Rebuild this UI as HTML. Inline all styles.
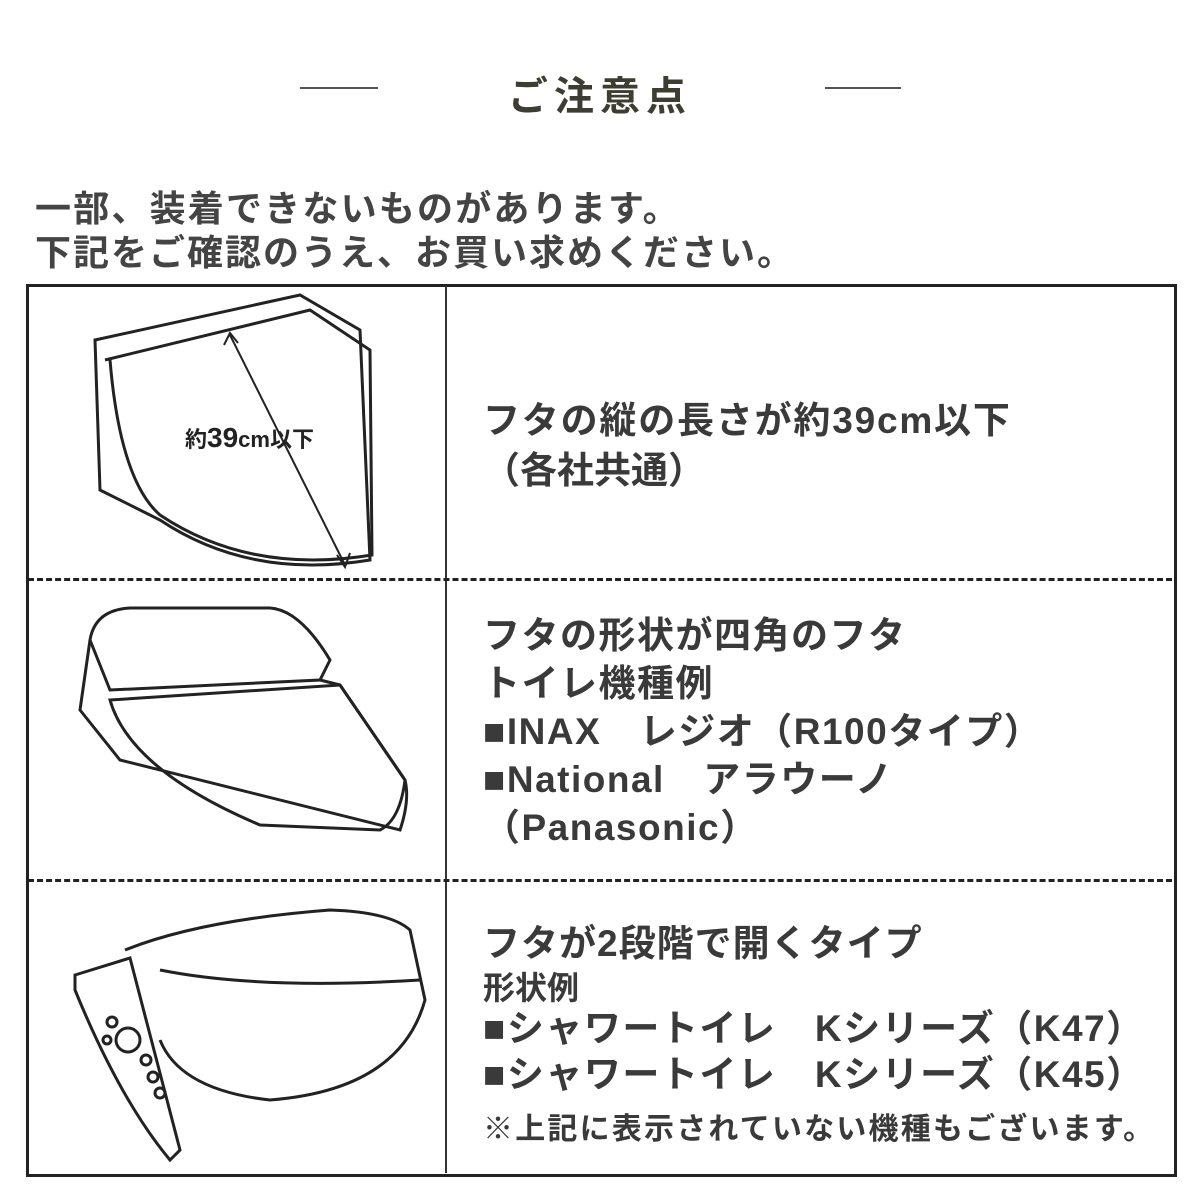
<!DOCTYPE html>
<html><head><meta charset="utf-8"><style>
body{margin:0;width:1200px;height:1200px;background:#fff;position:relative;overflow:hidden;font-family:"Liberation Sans","Noto Sans CJK JP",sans-serif;}
.t{position:absolute;white-space:nowrap;font-weight:bold;color:#3a3a3a;}
</style></head><body>
<div style="position:absolute;left:300px;top:87px;width:78px;height:2px;background:#555"></div>
<div style="position:absolute;left:825px;top:87px;width:76px;height:2px;background:#555"></div>
<div class="t" style="left:508px;top:64px;font-size:40px;letter-spacing:6px;color:#3d3d32">ご注意点</div>
<div class="t" style="left:35px;top:180px;font-size:36px;letter-spacing:2.2px;color:#444">一部、装着できないものがあります。</div>
<div class="t" style="left:35px;top:224px;font-size:36px;letter-spacing:2px;color:#444">下記をご確認のうえ、お買い求めください。</div>
<div style="position:absolute;left:26px;top:284px;width:1145px;height:887px;border:3px solid #222"></div>
<div style="position:absolute;left:445px;top:286px;width:2px;height:887px;background:#333"></div>
<div style="position:absolute;left:28px;top:578px;width:1144px;border-top:3px dashed #222"></div>
<div style="position:absolute;left:28px;top:879px;width:1144px;border-top:3px dashed #222"></div>
<svg style="position:absolute;left:0;top:0" width="1200" height="1200" fill="none" stroke="#222" stroke-width="3">
<path d="M95 340 L300 295 L360 330 L370 560 Q250 580 160 520 L100 490 Z" fill="#fff"/>
<path d="M105 360 L310 310 L370 350 L372 555 Q250 575 160 515 Q120 480 110 360"/>
<path d="M230 335 L345 565" stroke-width="2"/>
<path d="M224 345 L230 333 L238 343 M337 555 L345 567 L350 553" stroke-width="2"/>
<text x="185" y="447" font-size="22" font-weight="bold" fill="#222" stroke="none" font-family="Liberation Sans,Noto Sans CJK JP,sans-serif">約<tspan font-size="28">39</tspan>cm以下</text>
<path d="M90 640 Q95 610 130 608 L270 608 Q300 610 330 660 L320 680 L110 690 Z"/>
<path d="M90 640 L80 710 L120 760 L400 830 Q410 800 405 780 L340 685 L320 680"/>
<path d="M110 700 L340 685 L405 780 Q400 820 380 830 L260 825 Q130 770 110 700 Z"/>
<path d="M75 975 L130 958 L180 1150 L170 1160 Q120 1100 75 990 Z"/>
<path d="M125 950 Q200 920 330 910 Q390 912 410 930 L425 1000 Q400 1090 270 1100 Q180 1090 160 1040"/>
<path d="M160 970 Q260 990 420 980"/>
<circle cx="128" cy="1040" r="12"/><circle cx="112" cy="1022" r="5"/><circle cx="146" cy="1060" r="5"/><circle cx="153" cy="1077" r="5"/><circle cx="160" cy="1093" r="5"/><circle cx="107" cy="1040" r="4"/>
</svg>
<div class="t" style="left:483px;top:390px;font-size:37px;letter-spacing:1.8px">フタの縦の長さが約39cm以下</div>
<div class="t" style="left:483px;top:440px;font-size:37px">（各社共通）</div>
<div class="t" style="left:483px;top:612px;font-size:37px;line-height:48px;letter-spacing:1.5px">フタの形状が四角のフタ<br>トイレ機種例<br>■INAX　レジオ（R100タイプ）<br>■National　アラウーノ<br>（Panasonic）</div>
<div class="t" style="left:483px;top:913px;font-size:37px;letter-spacing:1px">フタが2段階で開くタイプ</div>
<div class="t" style="left:483px;top:963px;font-size:32px">形状例</div>
<div class="t" style="left:483px;top:1006px;font-size:37px;line-height:46px;letter-spacing:1.5px">■シャワートイレ　Kシリーズ（K47）<br>■シャワートイレ　Kシリーズ（K45）</div>
<div class="t" style="left:483px;top:1104px;font-size:30px;letter-spacing:2.2px">※上記に表示されていない機種もございます。</div>
</body></html>
